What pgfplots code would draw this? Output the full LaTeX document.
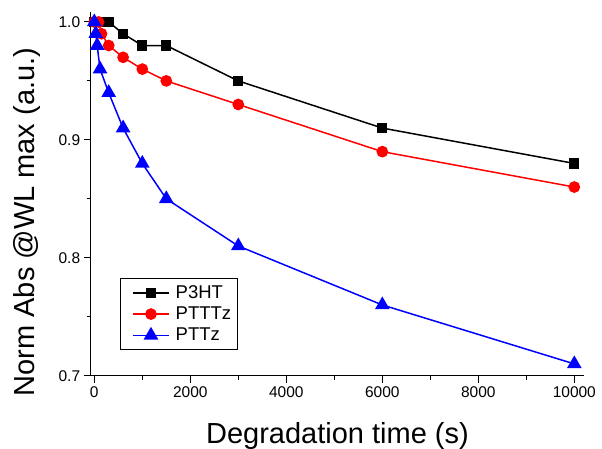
\documentclass[border=0pt]{standalone}
\usepackage{pgfplots}
\pgfplotsset{compat=1.18}
\usepackage{fontspec}
\setmainfont{Liberation Sans}
\begin{document}
\begin{tikzpicture}
\useasboundingbox (0,0) rectangle (602pt,449pt);
\begin{axis}[
  at={(90.7pt,73.3pt)}, anchor=south west,
  scale only axis, width=493.6pt, height=364pt,
  xmin=-75, xmax=10208, ymin=0.7, ymax=1.0087,
  axis lines*=left,
  axis line style={line width=1.2pt},
  tick align=outside,
  major tick length=7pt, minor tick length=4pt,
  every tick/.style={black, line width=1pt},
  scaled x ticks=false, scaled y ticks=false,
  xtick={0,2000,...,10000}, minor xtick={1000,3000,5000,7000,9000},
  ytick={0.7,0.8,0.9,1.0}, minor ytick={0.75,0.85,0.95},
  /pgf/number format/assume math mode=true,
  ticklabel style={font=\fontsize{15.5}{18}\selectfont},
  xticklabel style={/pgf/number format/1000 sep={}},
  yticklabel style={/pgf/number format/fixed, /pgf/number format/fixed zerofill, /pgf/number format/precision=1},
  xlabel={Degradation time (s)},
  ylabel={Norm Abs @WL max (a.u.)},
  label style={font=\fontsize{29}{33}\selectfont},
  xlabel style={at={(axis description cs:0.5,0)}, anchor=base, yshift=-68pt},
  ylabel style={at={(axis description cs:0,0.422)}, anchor=base, yshift=55.7pt},
  legend style={at={(0.059,0.268)}, anchor=north west, draw=black, line width=0.8pt,
    font=\fontsize{18.5}{21}\selectfont, row sep=3pt, inner xsep=4pt, inner ysep=5pt,
    /tikz/every odd column/.append style={column sep=4pt}},
  legend cell align=left,
  legend image code/.code={\path (0pt,0pt); \draw[mark repeat=2, mark phase=2, #1] plot coordinates {(8pt,0pt) (26pt,0pt) (44pt,0pt)};},
]
\addplot[black, line width=1.5pt, mark=square*, mark size=4.3pt, mark options={solid}] coordinates {
 (0,1.0) (150,1.0) (300,1.0) (600,0.99) (1000,0.98) (1500,0.98) (3000,0.95) (6000,0.91) (10000,0.88)};
\addlegendentry{P3HT}
\addplot[red, line width=1.5pt, mark=*, mark size=5.1pt, mark options={solid}] coordinates {
 (0,1.0) (90,1.0) (150,0.99) (300,0.98) (600,0.97) (1000,0.96) (1500,0.95) (3000,0.93) (6000,0.89) (10000,0.86)};
\addlegendentry{PTTTz}
\addplot[blue, line width=1.5pt, mark=triangle*, mark size=7pt, mark options={solid}] coordinates {
 (0,1.0) (30,0.99) (60,0.98) (120,0.96) (300,0.94) (600,0.91) (1000,0.88) (1500,0.85) (3000,0.81) (6000,0.76) (10000,0.71)};
\addlegendentry{PTTz}
\end{axis}
\end{tikzpicture}
\end{document}
